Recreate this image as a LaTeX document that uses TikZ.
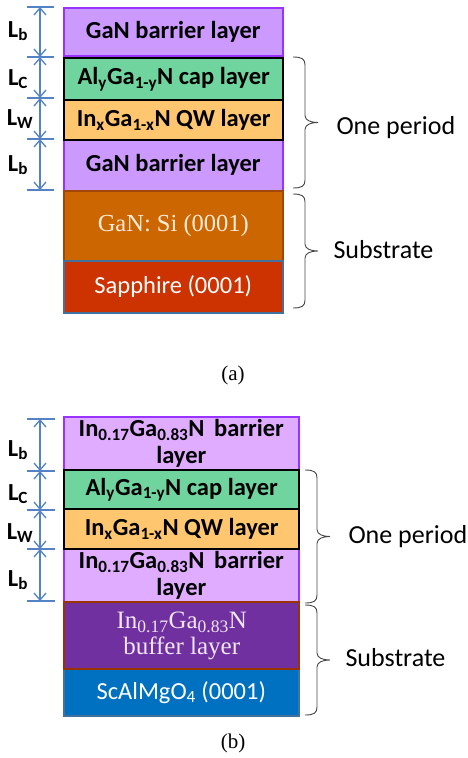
\documentclass[tikz,border=0pt]{standalone}
\usepackage{fontspec}
\setmainfont{Carlito}
\newfontfamily\serifface{Liberation Serif}
\usetikzlibrary{arrows.meta}

\definecolor{barrierA}{RGB}{204,153,255}
\definecolor{barrierB}{RGB}{224,172,255}
\definecolor{barrierEdge}{RGB}{153,51,255}
\definecolor{capfill}{RGB}{112,212,158}
\definecolor{qwfill}{RGB}{255,198,112}
\definecolor{sifill}{RGB}{204,102,0}
\definecolor{siedge}{RGB}{160,72,10}
\definecolor{sapfill}{RGB}{204,51,0}
\definecolor{subedge}{RGB}{65,113,156}
\definecolor{buffill}{RGB}{112,48,160}
\definecolor{bufedge}{RGB}{153,51,0}
\definecolor{scfill}{RGB}{0,112,192}
\definecolor{dimblue}{RGB}{84,130,196}
\definecolor{bracegray}{RGB}{70,70,70}

\newcommand{\sidebrace}[3]{%
  \draw[bracestyle] (#1,#2) .. controls +(9,0) and +(0,-6) .. ({#1+12},{#2+8})
    -- ({#1+12},{(#2+#3)/2-7}) .. controls +(0,5) and +(-7,0) .. ({#1+25},{(#2+#3)/2})
    .. controls +(-7,0) and +(0,-5) .. ({#1+12},{(#2+#3)/2+7})
    -- ({#1+12},{#3-8}) .. controls +(0,6) and +(9,0) .. (#1,#3);
}

\begin{document}
\begin{tikzpicture}[x=1pt,y=-1pt,
    layer/.style={rectangle, anchor=north west, inner sep=0pt, line width=1.6pt,
      font=\fontsize{24.5}{27}\selectfont\bfseries, align=center},
    wall/.style={line width=2.4pt, draw=black},
    dimline/.style={draw=dimblue, line width=1.3pt},
    dimarrow/.style={dimline, >={Straight Barb[length=7pt,width=12pt]}, <->},
    dimlabel/.style={font=\fontsize{24.5}{25}\selectfont\bfseries},
    bracestyle/.style={draw=bracegray, line width=0.9pt},
    bracelabel/.style={anchor=west, font=\fontsize{26}{28}\selectfont},
    caption/.style={font=\serifface\fontsize{21}{23}\selectfont}]
    \useasboundingbox (0,0) rectangle (468,758);

    % (a)
    \node[layer, fill=barrierA, draw=barrierEdge, minimum width=219pt, minimum height=48pt]
      (barA1) at (63,7) {GaN barrier layer};
    \node[layer, fill=barrierA, draw=barrierEdge, minimum width=219pt, minimum height=51pt]
      (barA2) at (63,139) {GaN barrier layer};
    \node[layer, fill=sifill, draw=siedge, minimum width=219pt, minimum height=70pt,
      text={rgb,255:red,252;green,236;blue,218}, font=\serifface\fontsize{24.5}{25}\selectfont]
      (siA) at (63,190) {GaN: Si (0001)};
    \node[layer, fill=sapfill, draw=subedge, minimum width=219pt, minimum height=52pt,
      text=white, font=\fontsize{24.5}{25}\selectfont]
      (sapA) at (63,260) {Sapphire (0001)};
    \node[layer, wall, fill=capfill, minimum width=219pt, minimum height=42pt]
      (capA) at (63,57) {Al\textsubscript{y}Ga\textsubscript{1-y}N cap layer};
    \node[layer, wall, fill=qwfill, minimum width=219pt, minimum height=40pt]
      (qwA) at (63,99) {In\textsubscript{x}Ga\textsubscript{1-x}N QW layer};

    \foreach \y [count=\i] in {7,57,98,139,190}
    {
      \draw[dimline] (27,\y) -- (54,\y);
      \coordinate (ta\i) at (40,\y);
    }
    \draw[dimarrow] (ta1) -- (ta2);
    \draw[dimarrow] (ta2) -- (ta3);
    \draw[dimarrow] (ta3) -- (ta4);
    \draw[dimarrow] (ta4) -- (ta5);
    \node[dimlabel] (lbA1) at (18,31) {L\textsubscript{b}};
    \node[dimlabel] (lcA) at (18,79) {L\textsubscript{C}};
    \node[dimlabel] (lwA) at (20,119) {L\textsubscript{W}};
    \node[dimlabel] (lbA2) at (18,165) {L\textsubscript{b}};

    \sidebrace{293}{57}{188}
    \sidebrace{293}{194}{308}
    \node[bracelabel] (perA) at (333,128) {One period};
    \node[bracelabel] (subA) at (330,250) {Substrate};
    \node[caption] (capa) at (233,375) {(a)};

    % (b)
    \node[layer, fill=barrierB, draw=barrierEdge, minimum width=235pt, minimum height=53pt]
      (barB1) at (63,416) {In\textsubscript{0.17}Ga\textsubscript{0.83}N\, barrier\\layer};
    \node[layer, fill=barrierB, draw=barrierEdge, minimum width=235pt, minimum height=53pt]
      (barB2) at (63,548) {In\textsubscript{0.17}Ga\textsubscript{0.83}N\, barrier\\layer};
    \node[layer, fill=scfill, draw=subedge, minimum width=235pt, minimum height=47pt,
      text=white, font=\fontsize{24.5}{25}\selectfont]
      (scB) at (63,668) {ScAlMgO\textsubscript{4} (0001)};
    \node[layer, fill=buffill, draw=bufedge, line width=2.4pt, minimum width=235pt, minimum height=67pt,
      text={rgb,255:red,240;green,230;blue,245}, font=\serifface\fontsize{25}{26}\selectfont]
      (bufB) at (63,601) {In\textsubscript{0.17}Ga\textsubscript{0.83}N\\buffer layer};
    \node[layer, wall, fill=capfill, minimum width=235pt, minimum height=39pt]
      (capB) at (63,469) {Al\textsubscript{y}Ga\textsubscript{1-y}N cap layer};
    \node[layer, wall, fill=qwfill, minimum width=235pt, minimum height=40pt]
      (qwB) at (63,508) {In\textsubscript{x}Ga\textsubscript{1-x}N QW layer};

    \foreach \y [count=\i] in {419,471,510,549,601}
    {
      \draw[dimline] (27,\y) -- (55,\y);
      \coordinate (tb\i) at (40,\y);
    }
    \draw[dimarrow] (tb1) -- (tb2);
    \draw[dimarrow] (tb2) -- (tb3);
    \draw[dimarrow] (tb3) -- (tb4);
    \draw[dimarrow] (tb4) -- (tb5);
    \node[dimlabel] (lbB1) at (18,450) {L\textsubscript{b}};
    \node[dimlabel] (lcB) at (18,494) {L\textsubscript{C}};
    \node[dimlabel] (lwB) at (20,533) {L\textsubscript{W}};
    \node[dimlabel] (lbB2) at (18,580) {L\textsubscript{b}};

    \sidebrace{305}{470}{603}
    \sidebrace{305}{605}{715}
    \node[bracelabel] (perB) at (345,537) {One period};
    \node[bracelabel] (subB) at (342,658) {Substrate};
    \node[caption] (capb) at (233,743) {(b)};
  \end{tikzpicture}
\end{document}
